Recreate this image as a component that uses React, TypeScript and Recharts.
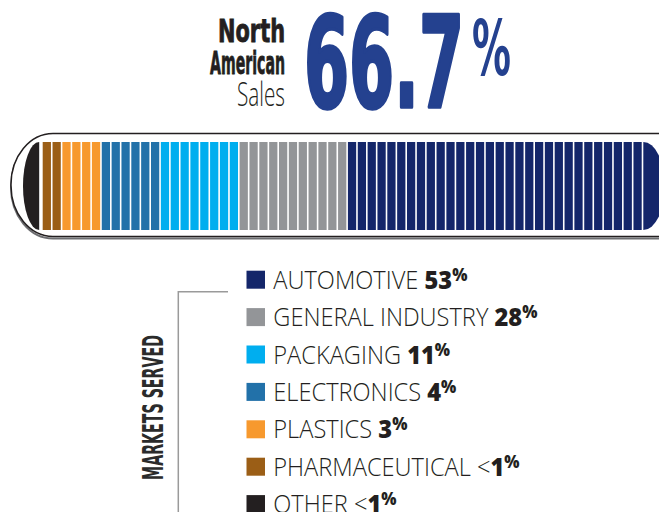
import React from 'react';
import { BarChart, Bar, XAxis, YAxis } from 'recharts';

// legend order, top to bottom
const marketKeys = ['automotive', 'general', 'packaging', 'electronics', 'plastics', 'pharmaceutical', 'other'];
const marketNames = ['AUTOMOTIVE', 'GENERAL INDUSTRY', 'PACKAGING', 'ELECTRONICS', 'PLASTICS', 'PHARMACEUTICAL', 'OTHER'];
const marketShares = ['53', '28', '11', '4', '3', '<1', '<1'];
// stripes drawn in the bar for each market (the two end caps take 2 units each)
const stripeCounts = [32, 11, 8, 6, 4, 2, 2];
const marketColors = ['#14266a', '#939598', '#00aeef', '#2271a9', '#f7992e', '#9b5e16', '#231f20'];

const headline = '66.7';

const barRow: Record<string, string | number> = { name: 'North American Sales' };
marketKeys.forEach((k, i) => {
  barRow[k] = stripeCounts[i];
});
const barData = [barRow];
const totalUnits = stripeCounts.reduce((a, b) => a + b, 0);

const GAP = 1.6;

const StripeShape = (props: any) => {
  const { x, y, width, height, fill, units, cap } = props;
  if (!width || !height) return null;
  const pitch = width / units;
  if (cap === 'left') {
    const xr = x + width - 3.5;
    return (
      <path
        d={`M ${xr} ${y} A ${xr - x} ${height / 2} 0 0 0 ${xr} ${y + height} Z`}
        fill={fill}
      />
    );
  }
  const n = cap === 'right' ? units - 2 : units;
  const stripes = [];
  for (let i = 0; i < n; i++) {
    stripes.push(
      <rect key={i} x={x + i * pitch} y={y} width={pitch - GAP} height={height} fill={fill} />
    );
  }
  if (cap === 'right') {
    const xl = x + n * pitch;
    stripes.push(
      <path
        key="cap"
        d={`M ${xl} ${y} A ${2 * pitch + 2} ${height / 2} 0 0 1 ${xl} ${y + height} Z`}
        fill={fill}
      />
    );
  }
  return <g>{stripes}</g>;
};

const condensed = "'DejaVu Sans Condensed', 'Liberation Sans Narrow', sans-serif";
const sans = "'Open Sans', 'Lato', sans-serif";

const LegendRow = ({ i }: { i: number }) => {
  const base = 288.7 + i * 37.4;
  const share = marketShares[i];
  const lt = share.startsWith('<');
  return (
    <g>
      <rect x={246.5} y={base - 18} width={18.5} height={18} fill={marketColors[i]} />
      <g transform={`translate(273.3 ${base}) scale(0.945 1)`}>
        <text x={0} y={0} fontFamily={sans} fontSize={25} fill="#231f20">
          <tspan fontWeight={300}>{marketNames[i] + ' '}</tspan>
          {lt && <tspan fontWeight={300}>{'<'}</tspan>}
          <tspan fontWeight={800}>{lt ? share.slice(1) : share}</tspan>
          <tspan fontWeight={800} fontSize={17} dy={-8}>%</tspan>
        </text>
      </g>
    </g>
  );
};

export default function App() {
  const stackOrder = marketKeys.map((_, i) => i).reverse();
  return (
    <div style={{ position: 'fixed', left: 0, top: 0, width: 659, height: 512, overflow: 'hidden', background: '#fff' }}>
      <svg width={700} height={260} style={{ position: 'absolute', left: 0, top: 0 }}>
        <rect x={11} y={135.5} width={690} height={103} rx={42} ry={51} fill="none" stroke="#6d6e71" strokeWidth={2} />
        <rect x={11} y={133.5} width={690} height={103} rx={42} ry={51} fill="#fff" stroke="#231f20" strokeWidth={1.5} />
      </svg>
      <div style={{ position: 'absolute', left: 0, top: 0 }}>
        <BarChart
          width={700}
          height={260}
          data={barData}
          layout="vertical"
          barCategoryGap={0}
          margin={{ top: 142, bottom: 30.5, left: 23, right: 37 }}
        >
          <XAxis type="number" hide domain={[0, totalUnits]} />
          <YAxis type="category" dataKey="name" hide />
          {stackOrder.map((i) => (
            <Bar
              key={marketKeys[i]}
              dataKey={marketKeys[i]}
              name={marketNames[i]}
              stackId="a"
              fill={marketColors[i]}
              isAnimationActive={false}
              shape={(p: any) => (
                <StripeShape
                  {...p}
                  units={stripeCounts[i]}
                  cap={marketKeys[i] === 'other' ? 'left' : marketKeys[i] === 'automotive' ? 'right' : undefined}
                />
              )}
            />
          ))}
        </BarChart>
      </div>
      <svg width={659} height={512} style={{ position: 'absolute', left: 0, top: 0, pointerEvents: 'none' }}>
        <text x={285} y={41.5} textAnchor="end" fontFamily={condensed} fontWeight="bold" fontSize={32} fill="#231f20" stroke="#231f20" strokeWidth={0.8} textLength={67} lengthAdjust="spacingAndGlyphs">North</text>
        <text x={285} y={74} textAnchor="end" fontFamily={condensed} fontWeight="bold" fontSize={32} fill="#231f20" stroke="#231f20" strokeWidth={0.8} textLength={75} lengthAdjust="spacingAndGlyphs">American</text>
        <text x={285} y={106} textAnchor="end" fontFamily={sans} fontWeight={300} fontSize={33} fill="#231f20" textLength={48} lengthAdjust="spacingAndGlyphs">Sales</text>
        <text x={304} y={107} fontFamily={condensed} fontWeight="bold" fontSize={127} fill="#24418f" stroke="#24418f" strokeWidth={3.5} strokeLinejoin="round" textLength={160} lengthAdjust="spacingAndGlyphs">{headline}</text>
        <text x={472} y={74.5} fontFamily={condensed} fontWeight="bold" fontSize={77} fill="#24418f" textLength={39} lengthAdjust="spacingAndGlyphs">%</text>

        <polyline points="228,291.7 178.3,291.7 178.3,512" fill="none" stroke="#9a9a9a" strokeWidth={1.5} />
        <g transform="translate(163.3 407.5) rotate(-90)">
          <text x={0} y={0} textAnchor="middle" fontFamily={condensed} fontWeight="bold" fontSize={27.5} fill="#2b2b2b" textLength={145} lengthAdjust="spacingAndGlyphs">MARKETS SERVED</text>
        </g>
        {marketNames.map((_, i) => (
          <LegendRow key={i} i={i} />
        ))}
      </svg>
    </div>
  );
}
